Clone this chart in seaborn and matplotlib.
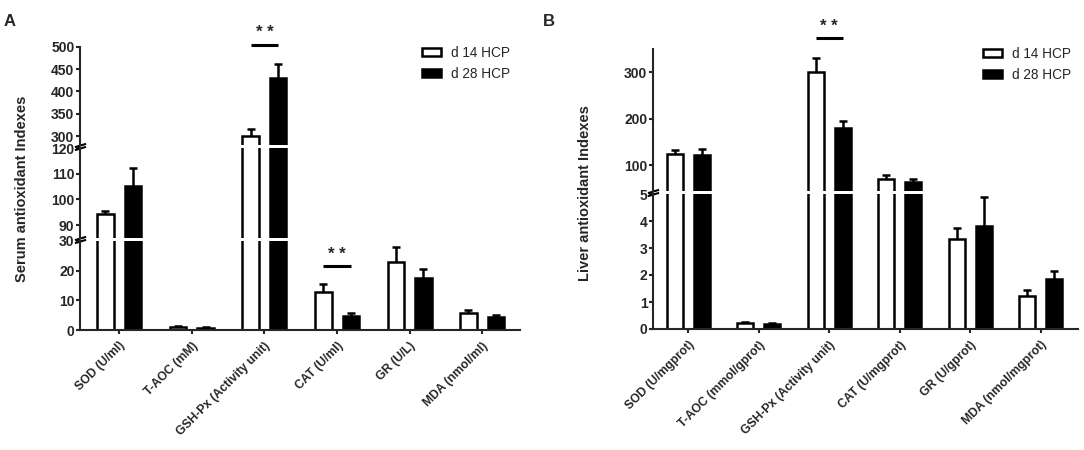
import numpy as np
import pandas as pd
import matplotlib
matplotlib.use("Agg")
import matplotlib.pyplot as plt
import seaborn as sns
from matplotlib.patches import Patch

# groups / categories
groups = ["d 14 HCP", "d 28 HCP"]
serum_cats = ["SOD (U/ml)", "T-AOC (mM)", "GSH-Px (Activity unit)",
              "CAT (U/ml)", "GR (U/L)", "MDA (nmol/ml)"]
liver_cats = ["SOD (U/mgprot)", "T-AOC (mmol/gprot)", "GSH-Px (Activity unit)",
              "CAT (U/mgprot)", "GR (U/gprot)", "MDA (nmol/mgprot)"]

# serum values
serum_d14 = [94.3, 1.0, 300, 12.9, 22.8, 5.8]
serum_d14_sd = [1.3, 0.3, 15, 2.5, 5.2, 0.9]
serum_d28 = [105.4, 0.8, 431, 4.8, 17.6, 4.5]
serum_d28_sd = [6.8, 0.2, 30, 0.8, 3.1, 0.7]

# liver values
liver_d14 = [123.7, 0.21, 300, 70, 3.33, 1.23]
liver_d14_sd = [8.7, 0.04, 30, 9, 0.42, 0.2]
liver_d28 = [121.5, 0.19, 180, 63, 3.81, 1.85]
liver_d28_sd = [13, 0.04, 15, 7, 1.07, 0.3]

sns.set_style("ticks")
plt.rcParams["font.family"] = ["Liberation Sans", "DejaVu Sans"]
plt.rcParams["axes.linewidth"] = 1.5

pal = {groups[0]: "white", groups[1]: "black"}
W, H = 1084, 450


def long_df(cats, v14, v28):
    return pd.DataFrame({
        "index": cats * 2,
        "value": v14 + v28,
        "group": [groups[0]] * len(cats) + [groups[1]] * len(cats),
    })


def px_axes(fig, x0, x1, ytop, ybot):
    # pixel box -> figure fraction
    return fig.add_axes([x0 / W, 1 - ybot / H, (x1 - x0) / W, (ybot - ytop) / H])


def segment(ax, df, cats, sd14, sd28, ylim, ticks, xlim, bottom=False, top=False):
    sns.barplot(data=df, x="index", y="value", hue="group", order=cats,
                hue_order=groups, palette=pal, saturation=1, width=0.76, gap=0.4,
                edgecolor="black", linewidth=1.8, errorbar=None, legend=False, ax=ax)
    for cont, sds in zip(ax.containers, [sd14, sd28]):
        xs = [p.get_x() + p.get_width() / 2 for p in cont]
        ys = [p.get_height() for p in cont]
        eb = ax.errorbar(xs, ys, yerr=[np.zeros(len(sds)), sds], fmt="none",
                         ecolor="black", elinewidth=1.8, capsize=3, capthick=1.8)
        eb[1][0].set_visible(False)
    ax.set_ylim(ylim)
    ax.set_yticks(ticks)
    ax.set_xlim(xlim)
    ax.set_xlabel("")
    ax.set_ylabel("")
    ax.set_facecolor("none")
    sns.despine(ax=ax)
    ax.tick_params(axis="y", length=3, width=1.5, pad=1, labelsize=10)
    for t in ax.get_yticklabels():
        t.set_fontweight("bold")
    brk = dict(transform=ax.transAxes, marker=[(-1, -0.3), (1, 0.3)], markersize=8,
               mew=1.5, color="black", linestyle="none", clip_on=False)
    if bottom:
        ax.tick_params(axis="x", length=3, width=1.5, pad=4)
        ax.set_xticks(range(len(cats)))
        ax.set_xticklabels(cats, rotation=45, ha="right", rotation_mode="anchor",
                           fontsize=8.7, fontweight="bold")
    else:
        ax.spines["bottom"].set_visible(False)
        ax.tick_params(axis="x", bottom=False, labelbottom=False)
        ax.plot([0], [0], **brk)
    if not top:
        ax.plot([0], [1], **brk)


def sig(ax, x, y_line, y_star):
    ax.plot([x - 0.19, x + 0.19], [y_line, y_line], color="black", lw=2.2,
            clip_on=False, solid_capstyle="butt")
    ax.text(x, y_star, "* *", ha="center", va="center", fontsize=12,
            fontweight="bold", clip_on=False)


fig = plt.figure(figsize=(W / 100, H / 100), dpi=100)

# panel A: serum, three segments
serum_df = long_df(serum_cats, serum_d14, serum_d28)
xa = (-0.54, 5.52)
a_low = px_axes(fig, 80, 520, 241, 330)
a_mid = px_axes(fig, 80, 520, 148.3, 237.8)
a_top = px_axes(fig, 80, 520, 46.7, 145)
segment(a_low, serum_df, serum_cats, serum_d14_sd, serum_d28_sd, (0, 30), [0, 10, 20, 30], xa, bottom=True)
segment(a_mid, serum_df, serum_cats, serum_d14_sd, serum_d28_sd, (85, 120), [90, 100, 110, 120], xa)
segment(a_top, serum_df, serum_cats, serum_d14_sd, serum_d28_sd, (280, 500), [300, 350, 400, 450, 500], xa, top=True)
sig(a_top, 2, 504, 531)
sig(a_low, 3, 21.6, 25.3)

# panel B: liver, two segments
liver_df = long_df(liver_cats, liver_d14, liver_d28)
xb = (-0.5, 5.53)
b_low = px_axes(fig, 653, 1078, 194, 329)
b_top = px_axes(fig, 653, 1078, 49.1, 190.5)
segment(b_low, liver_df, liver_cats, liver_d14_sd, liver_d28_sd, (0, 5), [0, 1, 2, 3, 4, 5], xb, bottom=True)
segment(b_top, liver_df, liver_cats, liver_d14_sd, liver_d28_sd, (45, 350), [100, 200, 300], xb, top=True)
sig(b_top, 2, 373, 398)

# legends
handles = [Patch(facecolor="white", edgecolor="black", linewidth=1.8, label=groups[0]),
           Patch(facecolor="black", edgecolor="black", linewidth=1.8, label=groups[1])]
leg_kw = dict(loc="upper left", frameon=False, fontsize=9.8, handlelength=1.4,
              handleheight=0.45, handletextpad=0.75, labelspacing=0.5,
              borderpad=0, borderaxespad=0)
fig.legend(handles=handles, bbox_to_anchor=(421.7 / W, 1 - 46 / H), **leg_kw)
fig.legend(handles=handles, bbox_to_anchor=(982.7 / W, 1 - 47 / H), **leg_kw)

# panel letters and y labels
fig.text(10 / W, 1 - 21 / H, "A", fontsize=12, fontweight="bold", va="center", ha="center")
fig.text(549 / W, 1 - 21 / H, "B", fontsize=12, fontweight="bold", va="center", ha="center")
fig.text(22 / W, 1 - 189 / H, "Serum antioxidant Indexes", rotation=90, fontsize=10.5,
         fontweight="bold", va="center", ha="center")
fig.text(585 / W, 1 - 193 / H, "Liver antioxidant Indexes", rotation=90, fontsize=10.5,
         fontweight="bold", va="center", ha="center")

fig.savefig("out.png", dpi=100, facecolor="white")
